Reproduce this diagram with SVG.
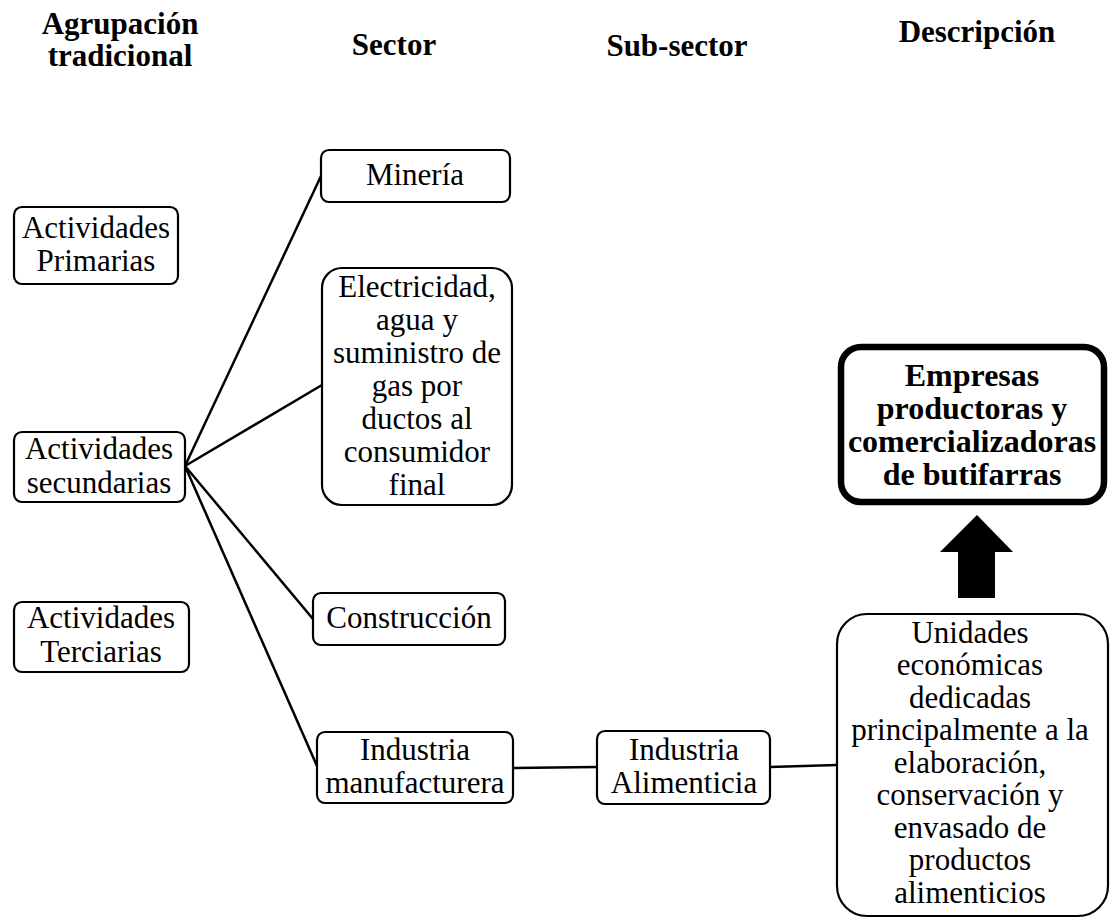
<svg xmlns="http://www.w3.org/2000/svg" width="1112" height="920" viewBox="0 0 1112 920">
<style>
.box{fill:#fff;stroke:#000;stroke-width:2.2}
.t{font-family:"Liberation Serif","Times New Roman",serif;font-size:31px;text-anchor:middle;fill:#000}
.h{font-family:"Liberation Serif","Times New Roman",serif;font-size:31px;font-weight:bold;text-anchor:middle;fill:#000}
.b{font-family:"Liberation Serif","Times New Roman",serif;font-size:32px;font-weight:bold;text-anchor:middle;fill:#000}
.c{stroke:#000;stroke-width:2.5;fill:none}
</style>
<rect width="1112" height="920" fill="#fff"/>
<g id="headers">
<text class="h" x="120" y="34">Agrupación</text>
<text class="h" x="120" y="66">tradicional</text>
<text class="h" x="394" y="55">Sector</text>
<text class="h" x="677" y="56">Sub-sector</text>
<text class="h" x="977" y="42">Descripción</text>
</g>
<g id="connectors">
<line class="c" x1="185" y1="466" x2="321" y2="176"/>
<line class="c" x1="185" y1="466" x2="322" y2="385"/>
<line class="c" x1="185" y1="466" x2="313" y2="619"/>
<line class="c" x1="185" y1="466" x2="317" y2="766"/>
<line class="c" x1="513" y1="768" x2="597" y2="767"/>
<line class="c" x1="770" y1="767" x2="837" y2="765"/>
<polygon points="977,515 1013,552 995,552 995,598 958,598 958,552 940,552" fill="#000"/>
</g>
<g id="primarias">
<rect class="box" x="14" y="207" width="164" height="77" rx="8"/>
<text class="t" x="96" y="238">Actividades</text>
<text class="t" x="96" y="271">Primarias</text>
</g>
<g id="secundarias">
<rect class="box" x="14" y="432" width="171" height="70" rx="8"/>
<text class="t" x="99" y="459">Actividades</text>
<text class="t" x="99" y="493">secundarias</text>
</g>
<g id="terciarias">
<rect class="box" x="14" y="602" width="175" height="70" rx="8"/>
<text class="t" x="101" y="628">Actividades</text>
<text class="t" x="101" y="662">Terciarias</text>
</g>
<g id="mineria">
<rect class="box" x="321" y="150" width="189" height="52" rx="8"/>
<text class="t" x="415" y="185">Minería</text>
</g>
<g id="electricidad">
<rect class="box" x="322" y="268" width="190" height="237" rx="20"/>
<text class="t" x="417" y="297">Electricidad,</text>
<text class="t" x="417" y="330">agua y</text>
<text class="t" x="417" y="363">suministro de</text>
<text class="t" x="417" y="396">gas por</text>
<text class="t" x="417" y="429">ductos al</text>
<text class="t" x="417" y="462">consumidor</text>
<text class="t" x="417" y="495">final</text>
</g>
<g id="construccion">
<rect class="box" x="313" y="593" width="192" height="52" rx="8"/>
<text class="t" x="409" y="628">Construcción</text>
</g>
<g id="manufacturera">
<rect class="box" x="317" y="732" width="196" height="71" rx="8"/>
<text class="t" x="415" y="760">Industria</text>
<text class="t" x="415" y="793">manufacturera</text>
</g>
<g id="alimenticia">
<rect class="box" x="597" y="731" width="173" height="73" rx="8"/>
<text class="t" x="684" y="760">Industria</text>
<text class="t" x="684" y="793">Alimenticia</text>
</g>
<g id="unidades">
<rect class="box" x="837" y="614" width="271" height="302" rx="30"/>
<text class="t" x="970" y="643">Unidades</text>
<text class="t" x="970" y="675">económicas</text>
<text class="t" x="970" y="708">dedicadas</text>
<text class="t" x="970" y="740">principalmente a la</text>
<text class="t" x="970" y="773">elaboración,</text>
<text class="t" x="970" y="805">conservación y</text>
<text class="t" x="970" y="838">envasado de</text>
<text class="t" x="970" y="870">productos</text>
<text class="t" x="970" y="903">alimenticios</text>
</g>
<g id="empresas">
<rect x="841" y="347" width="263" height="155" rx="20" fill="#fff" stroke="#000" stroke-width="6.5"/>
<text class="b" x="972" y="386">Empresas</text>
<text class="b" x="972" y="419">productoras y</text>
<text class="b" x="972" y="452">comercializadoras</text>
<text class="b" x="972" y="485">de butifarras</text>
</g>
</svg>
